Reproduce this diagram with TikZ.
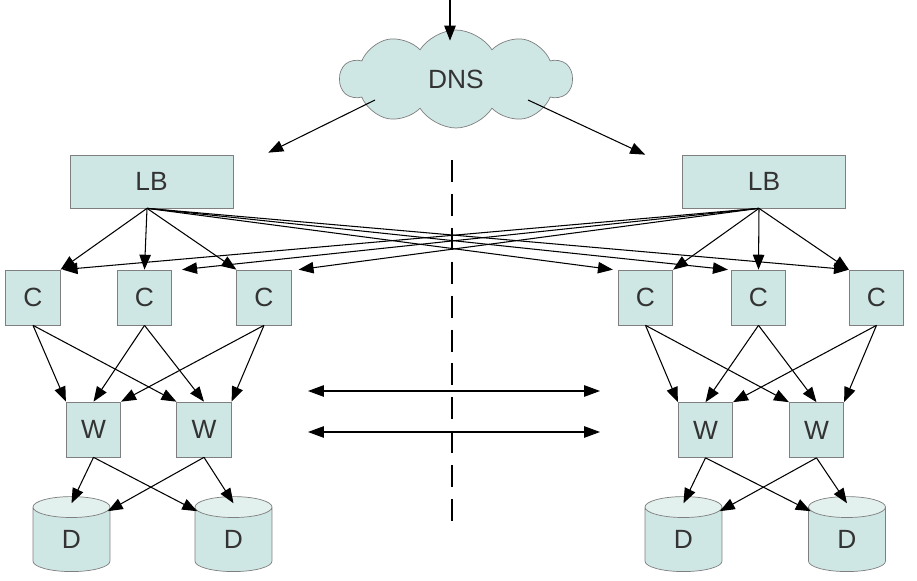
\documentclass[tikz,border=0pt]{standalone}
\usepackage{fontspec}
\setmainfont{Liberation Sans}
\usetikzlibrary{arrows.meta,shapes.symbols,shapes.geometric}
\definecolor{boxfill}{HTML}{CFE7E4}
\definecolor{boxtop}{HTML}{E2F0EE}
\definecolor{boxline}{HTML}{7F7F7F}
\definecolor{boxtext}{HTML}{333333}
\tikzset{
    every node/.style={align=center,font=\fontsize{15}{18}\selectfont,text=boxtext,},
    server/.style={draw=boxline,fill=boxfill,rectangle,inner sep=0pt,minimum width=1.09cm,minimum height=1.1cm,},
    balancer/.style={server,minimum width=3.26cm,minimum height=1.06cm,},
    store/.style={draw=boxline,cylinder,shape border rotate=90,aspect=1.1,inner sep=0pt,
        minimum width=1.54cm,minimum height=1.5cm,
        cylinder uses custom fill,cylinder body fill=boxfill,cylinder end fill=boxtop,},
    dns/.style={draw=boxline,fill=boxfill,cloud,cloud puffs=10,cloud puff arc=115,aspect=2.4,
        minimum width=4.64cm,minimum height=1.96cm,inner sep=0pt,},
    flow/.style={-{Triangle[length=8.5pt,width=6.5pt]},line width=0.6pt,},
    sync/.style={{Triangle[length=9pt,width=6.5pt]}-{Triangle[length=9pt,width=6.5pt]},line width=0.6pt,},
    divider/.style={line width=0.6pt,dash pattern=on 12.5pt off 6.8pt,},
}

\begin{document}
\begin{tikzpicture}[x=0.02cm,y=-0.02cm]
                \useasboundingbox (0,0) rectangle (917,581);

                \node[dns] (dns) at (456, 79) {DNS};
                \coordinate (client) at (450, 0);

                \node[balancer] (lbL) at (151.5, 181.5) {LB};
                \node[balancer] (lbR) at (764, 181.5) {LB};

                \node[server] (cL1) at (33, 297.5) {C};
                \node[server] (cL2) at (144.5, 297.5) {C};
                \node[server] (cL3) at (264, 297.5) {C};
                \node[server] (cR1) at (645.5, 297.5) {C};
                \node[server] (cR2) at (758.5, 297.5) {C};
                \node[server] (cR3) at (876.5, 297.5) {C};

                \node[server] (wL1) at (93.5, 429.5) {W};
                \node[server] (wL2) at (204, 429.5) {W};
                \node[server] (wR1) at (705.5, 430) {W};
                \node[server] (wR2) at (816.5, 430) {W};

                \node[store] (dL1) at (71.5, 539.5) {D};
                \node[store] (dL2) at (233.5, 539.5) {D};
                \node[store] (dR1) at (683.5, 539.5) {D};
                \node[store] (dR2) at (847, 539.5) {D};

                % split line and replication
                \coordinate (splitTop) at (452, 160);
                \coordinate (splitBottom) at (452, 530);
                \draw[divider] (splitTop) to (splitBottom);
                \coordinate (syncL1) at (308, 391);
                \coordinate (syncR1) at (600, 391);
                \coordinate (syncL2) at (308, 432);
                \coordinate (syncR2) at (600, 432);
                \draw[sync] (syncL1) to (syncR1);
                \draw[sync] (syncL2) to (syncR2);

                \draw[flow] (client) to ([yshift=-0.22cm]dns.north -| client);
                \draw[flow] ([shift={(-81,21)}]dns.center) to ([shift={(35,-2)}]lbL.north east);
                \draw[flow] ([shift={(72,21)}]dns.center) to ([shift={(-37,0)}]lbR.north west);

                % balancers to caches
                \draw[flow] ([xshift=-0.09cm]lbL.south) to (cL1.north east);
                \draw[flow] ([xshift=-0.09cm]lbL.south) to (cL2.north);
                \draw[flow] ([xshift=-0.09cm]lbL.south) to (cL3.north west);
                \draw[flow] ([xshift=-0.09cm]lbL.south) to ([xshift=-0.1cm]cR1.north west);
                \draw[flow] ([xshift=-0.09cm]lbL.south) to ([xshift=-0.06cm]cR2.north west);
                \draw[flow] ([xshift=-0.09cm]lbL.south) to (cR3.north west);
                \draw[flow] ([xshift=-0.1cm]lbR.south) to (cR1.north east);
                \draw[flow] ([xshift=-0.1cm]lbR.south) to (cR2.north);
                \draw[flow] ([xshift=-0.1cm]lbR.south) to (cR3.north west);
                \draw[flow] ([xshift=-0.1cm]lbR.south) to ([xshift=0.04cm]cL1.north east);
                \draw[flow] ([xshift=-0.1cm]lbR.south) to ([xshift=0.2cm]cL2.north east);
                \draw[flow] ([xshift=-0.1cm]lbR.south) to ([xshift=0.14cm]cL3.north east);

                % caches to web servers
                \foreach \s in {L,R} {
                    \draw[flow] (c\s1.south) to (w\s1.north west);
                    \draw[flow] (c\s1.south) to (w\s2.north west);
                    \draw[flow] (c\s2.south) to (w\s1.north);
                    \draw[flow] (c\s2.south) to (w\s2.north);
                    \draw[flow] (c\s3.south) to (w\s1.north east);
                    \draw[flow] (c\s3.south) to (w\s2.north east);
                    \draw[flow] (w\s1.south) to ([yshift=-0.14cm]d\s1.north);
                    \draw[flow] (w\s1.south) to ([yshift=-0.16cm]d\s2.north west);
                    \draw[flow] (w\s2.south) to ([yshift=-0.16cm]d\s1.north east);
                    \draw[flow] (w\s2.south) to ([yshift=-0.14cm]d\s2.north);
                }
            \end{tikzpicture}
\end{document}
